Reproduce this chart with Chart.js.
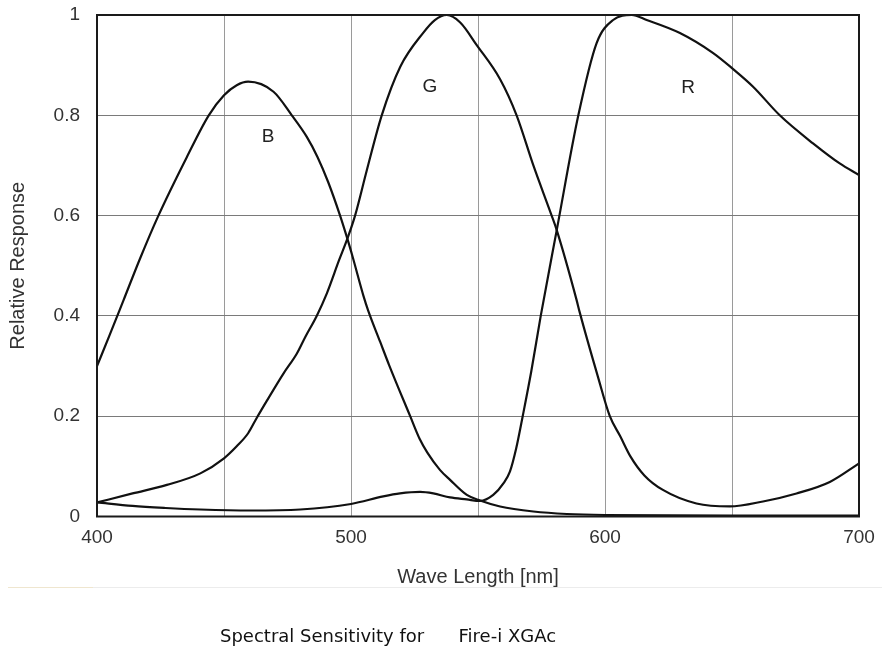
<!DOCTYPE html>
<html>
<head>
<meta charset="utf-8">
<script src="https://cdn.jsdelivr.net/npm/chart.js@4/dist/chart.umd.min.js"></script>
<style>
  html, body { margin: 0; padding: 0; background: #fff; }
  #wrap { position: relative; width: 882px; height: 648px; }
  #c { position: absolute; left: 0; top: 0; }
  #sep1 { position: absolute; left: 8px; top: 587px; width: 874px; height: 1px; background: #ececec; }
  #sep2 { position: absolute; left: 8px; top: 587px; width: 85px; height: 1px; background: #efe6cf; }
  #caption { position: absolute; left: 220px; top: 625px; font-family: "DejaVu Sans", sans-serif; font-size: 18px; line-height: 21px; color: #111; white-space: pre; }
</style>
</head>
<body>
<div id="wrap">
  <canvas id="c" width="882" height="648"></canvas>
  <div id="sep1"></div><div id="sep2"></div>
  <div id="caption">Spectral Sensitivity for      Fire-i XGAc</div>
</div>
<script>
// ---- data ----
const seriesNames = ["B", "G", "R"];

const bWave = [400, 405, 410.5, 417, 424, 435.4, 444, 450, 455, 459.5, 469.5, 476.7, 482.6, 486.8, 491, 495.7, 498.5, 500.8, 504.9, 506.8, 511.5, 515, 523.3, 527, 530, 535, 539, 545.6, 550.8, 558.7, 571.8, 585, 600, 650, 700];
const bVal  = [0.30, 0.362, 0.432, 0.515, 0.598, 0.717, 0.80, 0.84, 0.86, 0.867, 0.847, 0.80, 0.757, 0.717, 0.667, 0.60, 0.555, 0.515, 0.44, 0.41, 0.348, 0.302, 0.20, 0.155, 0.128, 0.093, 0.073, 0.043, 0.032, 0.02, 0.01, 0.005, 0.003, 0.002, 0.002];

const gWave = [400, 414, 427.5, 440.7, 450, 455, 459.5, 462.6, 466.9, 473.4, 478.7, 482, 486.5, 490.5, 495.3, 498.5, 501.6, 506.2, 512.1, 519.4, 528.5, 533, 537.7, 543, 549.5, 558.7, 565.2, 571.8, 579, 581, 588.8, 590, 597.2, 601.9, 606, 610, 615.5, 622.8, 636, 649.1, 662.2, 675.4, 688.5, 700];
const gVal  = [0.028, 0.046, 0.063, 0.086, 0.116, 0.14, 0.166, 0.194, 0.231, 0.285, 0.325, 0.358, 0.40, 0.445, 0.511, 0.553, 0.60, 0.69, 0.80, 0.897, 0.965, 0.99, 1.0, 0.985, 0.94, 0.872, 0.80, 0.70, 0.60, 0.571, 0.432, 0.408, 0.279, 0.20, 0.16, 0.12, 0.082, 0.053, 0.026, 0.02, 0.03, 0.046, 0.069, 0.106];

const rWave = [400, 414, 427, 440.7, 460.3, 480, 500, 512.7, 519.3, 527.2, 532.4, 539, 545.6, 550.8, 556, 560, 562.6, 565, 567.6, 571, 574.7, 581, 589.5, 596.7, 603.2, 610.5, 616.4, 629.5, 642.6, 650, 658.3, 668.8, 681.9, 692.4, 700];
const rVal  = [0.028, 0.021, 0.017, 0.014, 0.012, 0.014, 0.025, 0.04, 0.046, 0.049, 0.046, 0.038, 0.034, 0.031, 0.043, 0.066, 0.09, 0.135, 0.20, 0.29, 0.40, 0.571, 0.80, 0.944, 0.99, 1.0, 0.99, 0.964, 0.924, 0.894, 0.857, 0.80, 0.744, 0.704, 0.681];

const xTickLabels = [400, 500, 600, 700];
const yTickLabels = [0, 0.2, 0.4, 0.6, 0.8, 1];

// ---- build ----
function pts(w, v) { return w.map((x, i) => ({ x: x, y: v[i] })); }
const waves = [bWave, gWave, rWave];
const vals = [bVal, gVal, rVal];

const curveLabels = {
  id: 'curveLabels',
  afterDatasetsDraw(chart) {
    const { ctx, scales: { x, y } } = chart;
    const spots = [[467.4, 0.757], [531.1, 0.857], [632.7, 0.854]];
    ctx.save();
    ctx.fillStyle = '#222';
    ctx.font = '19px "Liberation Sans", Arial, sans-serif';
    ctx.textAlign = 'center';
    ctx.textBaseline = 'middle';
    seriesNames.forEach((n, i) => {
      ctx.fillText(n, x.getPixelForValue(spots[i][0]), y.getPixelForValue(spots[i][1]));
    });
    ctx.restore();
  }
};

const frame = {
  id: 'frame',
  afterDraw(chart) {
    const { ctx, chartArea: a } = chart;
    ctx.save();
    ctx.strokeStyle = '#1a1a1a';
    ctx.lineWidth = 2;
    ctx.strokeRect(a.left, a.top, a.right - a.left, a.bottom - a.top);
    ctx.restore();
  }
};

new Chart(document.getElementById('c'), {
  type: 'line',
  data: {
    datasets: seriesNames.map((n, i) => ({
      label: n,
      data: pts(waves[i], vals[i]),
      borderColor: '#111',
      borderWidth: 2.2,
      pointRadius: 0,
      fill: false,
      cubicInterpolationMode: 'monotone'
    }))
  },
  options: {
    responsive: false,
    animation: false,
    layout: { padding: { top: 15, right: 23, left: 0, bottom: 0 } },
    plugins: { legend: { display: false }, tooltip: { enabled: false } },
    scales: {
      x: {
        type: 'linear',
        min: 400, max: 700,
        border: { display: false },
        grid: { color: '#9a9a9a', lineWidth: 1, drawTicks: false },
        ticks: {
          stepSize: 50,
          padding: 10,
          color: '#333',
          font: { family: '"Liberation Sans", Arial, sans-serif', size: 19 },
          maxRotation: 0,
          autoSkip: false,
          callback: v => (xTickLabels.includes(v) ? String(v) : '')
        },
        title: {
          display: true,
          text: 'Wave Length [nm]',
          color: '#333',
          font: { family: '"Liberation Sans", Arial, sans-serif', size: 20 },
          padding: { top: 0, bottom: 59 }
        },
        afterFit: s => { s.height = 131.5; s.paddingLeft = 0; s.paddingRight = 0; }
      },
      y: {
        min: 0, max: 1,
        border: { display: false },
        grid: { color: '#7a7a7a', lineWidth: 1, drawTicks: false },
        ticks: {
          stepSize: 0.2,
          padding: 17,
          color: '#333',
          font: { family: '"Liberation Sans", Arial, sans-serif', size: 19 },
          callback: v => {
            const r = Math.round(v * 10) / 10;
            return yTickLabels.includes(r) ? String(r) : '';
          }
        },
        title: {
          display: true,
          text: 'Relative Response',
          color: '#333',
          font: { family: '"Liberation Sans", Arial, sans-serif', size: 20 },
          padding: { top: 6, bottom: 0 }
        },
        afterFit: s => { s.width = 97; s.paddingTop = 0; s.paddingBottom = 0; }
      }
    }
  },
  plugins: [curveLabels, frame]
});
</script>
</body>
</html>
